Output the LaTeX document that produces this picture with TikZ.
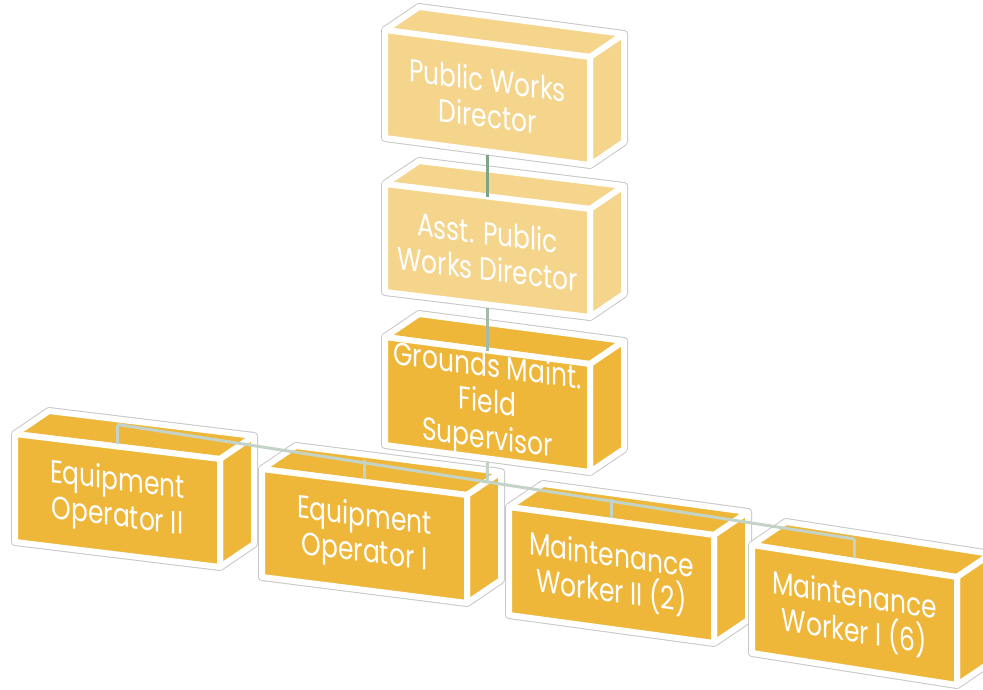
\documentclass[tikz,border=0pt]{standalone}
\usepackage{fontspec}
\setmainfont{Poppins}[FakeStretch=0.78]
\usepackage{tikz}
\usetikzlibrary{calc, positioning}

\definecolor{PaleGold}{HTML}{F5D58C}
\definecolor{DeepGold}{HTML}{EEB73A}
\definecolor{LinkDark}{HTML}{7DA486}
\definecolor{LinkMid}{HTML}{A2BBA9}
\definecolor{LinkPale}{HTML}{C3D3C7}

% #1 name, #2 x, #3 y, #4 drop of the top edge, #5 fill, #6 text
\newcommand\jobbox[6]{%
  \path (#2,#3) coordinate (#1-a) ++(205,#4) coordinate (#1-b) ++(0,108) coordinate (#1-c)
        (#1-a) ++(0,108) coordinate (#1-e);
  \draw[rim] (#1-e) -- (#1-a) -- ++(34,-23) -- ($(#1-b)+(34,-23)$) -- ($(#1-c)+(34,-23)$) -- (#1-c) -- cycle;
  \filldraw[face, fill=#5] (#1-a) -- ++(34,-23) -- ($(#1-b)+(34,-23)$) -- (#1-b) -- cycle;
  \filldraw[face, fill=#5] (#1-b) -- ++(34,-23) -- ($(#1-c)+(34,-23)$) -- (#1-c) -- cycle;
  \filldraw[face, fill=#5] (#1-a) -- (#1-b) -- (#1-c) -- (#1-e) -- cycle;
  \node[jobtext, yslant=-#4/205] (#1) at ($(#1-a)!.5!(#1-c)$) {#6};
  \coordinate (#1-top) at ($(#1-a)!.5!(#1-b)$);
  \coordinate (#1-bot) at ($(#1-e)!.5!(#1-c)$);
}

\begin{document}
\begin{tikzpicture}[x=1pt, y=-1pt, line join=round,
    rim/.style={draw=black!22, fill=white, line width=8pt},
    face/.style={draw=white, line width=6pt},
    jobtext/.style={text=white, align=center, inner sep=0pt, font=\fontsize{32}{36}\selectfont},
    link/.style={line width=3pt}]
  \useasboundingbox (0,0) rectangle (983,689);

  \jobbox{pwd}{385}{30}{27}{PaleGold}{Public Works\\Director}
  \jobbox{apwd}{385}{184}{25}{PaleGold}{Asst. Public\\Works Director}
  \jobbox{gmfs}{385}{337}{27}{DeepGold}{Grounds Maint.\\Field\\Supervisor}
  \jobbox{eo2}{15}{434}{25}{DeepGold}{Equipment\\Operator II}
  \jobbox{eo1}{262}{469}{26}{DeepGold}{Equipment\\Operator I}
  \jobbox{mw2}{509}{507}{28}{DeepGold}{Maintenance\\Worker II (2)}
  \jobbox{mw1}{752}{545}{32}{DeepGold}{Maintenance\\Worker I (6)}

  % links
  \draw[link, LinkDark, shorten <=3pt] (pwd-bot) -- (apwd-top);
  \draw[link, LinkMid, shorten <=3pt] (apwd-bot) -- (gmfs-top);
  \foreach \n in {eo2, eo1, mw2, mw1}
    \coordinate (\n-up) at ($(\n-top)+(0,-22)$);
  \draw[link, LinkPale] (eo2-up) -- (mw1-up);
  \draw[link, LinkPale, shorten <=3pt] (gmfs-bot) -- (intersection of gmfs-top--gmfs-bot and eo2-up--mw1-up);
  \foreach \n in {eo2, eo1, mw2, mw1}
    \draw[link, LinkPale, shorten >=3pt] (\n-up) -- (\n-top);
\end{tikzpicture}
\end{document}
